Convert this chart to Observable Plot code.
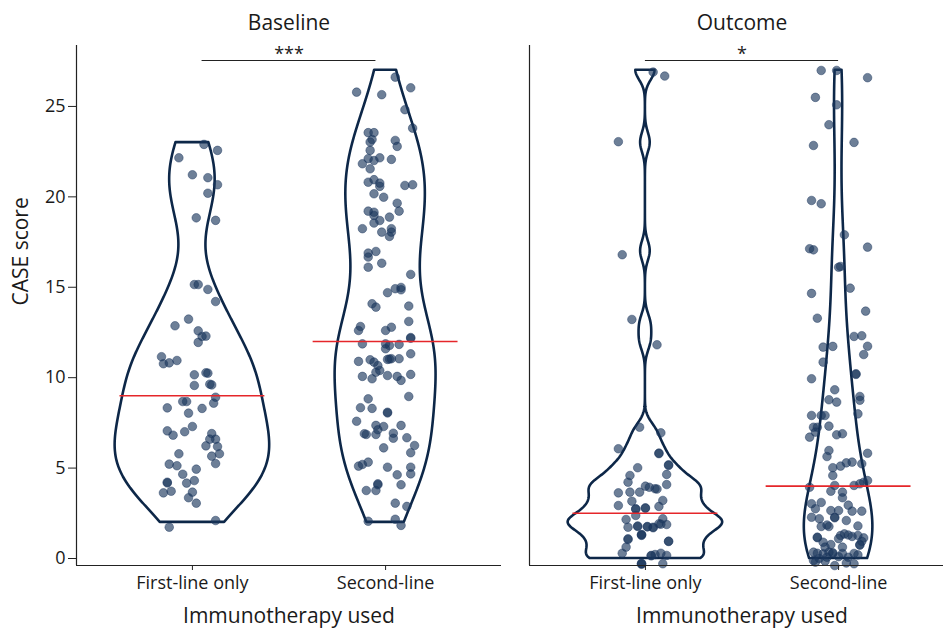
<!DOCTYPE html>
<html><head><meta charset="utf-8">
<script src="https://cdn.jsdelivr.net/npm/d3@7"></script>
<script src="https://cdn.jsdelivr.net/npm/@observablehq/plot@0.6"></script>
<style>
body{margin:0;background:#fff;}
#wrap{width:943px;height:632px;overflow:hidden;display:flex;background:#fff;}
#wrap svg{flex:none;}
</style></head><body><div id="wrap"></div>
<script>
const groups = ["First-line only", "Second-line"];
const panels = ["Baseline", "Outcome"];
const yTicks = [0, 5, 10, 15, 20, 25];
const baselineMedians = [9, 12];
const outcomeMedians = [2.5, 4];
const significance = ["***", "*"];
const bracketFrom = [1.05, 1.0];
const bracketTo = [1.95, 2.0];
const bracketLevel = 27.54;
// kernel bandwidth adjustment per violin (baseline first, baseline second, outcome first, outcome second)
const bandwidthAdjust = [1, 1, 0.58, 1];

// jittered points (score + vertical jitter), horizontal jitter in category units
const baseFirstY = [22.9,22.57,22.16,21.22,21.06,20.67,20.2,18.84,18.7,15.15,15.15,14.88,14.21,13.24,12.87,12.59,12.30,12.28,11.95,11.16,10.77,10.82,10.95,10.16,10.27,10.25,9.57,9.64,9.60,8.92,8.59,8.68,8.68,8.33,8.04,8.30,7.06,6.82,7.01,7.30,6.91,6.60,6.60,6.23,6.19,5.79,5.66,5.25,5.79,5.22,5.13,4.94,4.66,4.22,4.18,4.17,4.31,3.63,3.72,3.67,3.36,3.06,2.10,1.73];
const baseFirstJitter = [0.06,0.13,-0.07,0.00,0.08,0.13,0.08,0.02,0.12,0.01,0.03,0.08,0.12,-0.02,-0.09,0.03,0.07,0.05,0.03,-0.16,-0.15,-0.12,-0.08,0.01,0.07,0.08,0.01,0.09,0.10,0.12,0.11,-0.05,-0.03,-0.13,-0.02,0.05,-0.13,-0.10,-0.04,0.00,0.10,0.12,0.09,0.07,0.13,0.14,0.10,0.12,-0.07,-0.12,-0.08,0.02,-0.05,-0.13,-0.13,-0.03,0.01,-0.15,-0.11,0.00,-0.02,0.02,0.12,-0.12];

const baseSecondY = [26.62,26.03,25.79,25.65,24.82,23.80,23.55,23.55,23.17,23.03,
23.12,22.79,22.57,22.11,22.01,22.16,21.83,21.55,22.07,20.81,
20.95,20.76,20.58,20.63,20.67,20.17,19.98,19.65,19.21,19.21,
19.15,18.97,18.69,18.55,18.88,18.24,18.05,18.24,18.05,17.81,
16.89,16.98,16.67,16.33,16.11,15.71,14.70,14.92,14.86,14.99,
14.09,13.90,13.96,13.11,12.83,12.61,12.61,12.79,12.18,12.22,
11.87,11.87,11.78,11.84,11.60,11.32,10.90,10.99,10.86,10.67,
11.01,11.03,11.05,11.05,10.07,9.94,10.30,10.40,10.12,10.07,
9.85,10.18,8.96,8.83,8.34,8.30,8.09,8.05,7.59,7.36,
7.30,7.36,6.90,6.86,6.86,7.12,6.93,6.65,6.68,6.25,
6.12,5.85,5.11,5.20,5.33,5.05,5.05,4.63,4.68,4.13,
4.08,4.08,3.76,3.76,3.06,2.88,2.06,2.17,1.83];
const baseSecondJitter = [0.05,0.13,-0.15,-0.02,0.10,0.14,-0.09,-0.06,-0.07,-0.08,
0.05,0.06,-0.08,-0.09,-0.06,-0.03,-0.12,-0.08,0.03,-0.09,
-0.06,-0.03,-0.03,0.10,0.14,-0.06,-0.01,0.06,0.07,-0.09,
-0.06,-0.06,-0.03,-0.06,0.02,-0.12,-0.02,0.03,0.03,0.02,
-0.09,-0.05,-0.09,-0.02,-0.09,0.13,0.01,0.05,0.08,0.08,
-0.07,-0.05,0.12,0.12,-0.13,-0.14,0.00,0.03,0.13,0.13,
-0.12,0.00,0.02,0.07,0.00,0.13,-0.14,-0.08,-0.06,-0.04,
0.01,0.02,0.03,0.07,-0.12,-0.07,-0.05,-0.03,0.01,0.06,
0.08,0.13,0.12,-0.09,-0.13,-0.07,0.01,0.01,-0.15,-0.05,
-0.01,0.08,-0.11,-0.10,-0.05,-0.04,0.04,0.04,0.11,0.15,
-0.01,0.13,-0.14,-0.12,-0.09,0.01,0.13,0.06,0.13,-0.04,
-0.04,0.08,-0.10,-0.05,0.05,0.11,-0.09,0.05,0.08];

const outFirstY = [26.9,26.68,23.05,16.8,13.22,11.82,7.26,6.95,6.07,5.83,
5.80,5.18,5.02,4.59,4.65,4.22,4.09,3.63,3.67,3.67,
4.00,3.94,3.86,3.84,3.21,3.17,2.93,2.75,2.78,2.88,
2.38,2.16,1.73,1.77,1.77,1.73,1.92,2.20,1.88,1.31,
1.28,0.94,1.09,0.63,0.29,0.17,0.22,0.29,0.17,-0.29,
-0.29,-0.32,1.70,1.80,1.90,1.75,1.33,0.96,1.05,
0.15,5.15,-0.27,2.80,2.73];
const outFirstJitter = [0.04,0.10,-0.14,-0.12,-0.07,0.06,-0.03,0.08,-0.14,0.07,
0.07,0.12,-0.04,-0.08,0.11,-0.09,0.11,-0.14,-0.08,-0.03,
0.00,0.02,0.05,0.06,0.09,-0.07,-0.14,-0.05,0.00,0.07,
-0.05,-0.10,-0.09,-0.04,0.01,0.04,0.07,0.09,0.11,-0.02,
-0.02,0.12,-0.09,-0.10,-0.12,0.03,0.05,0.08,0.11,0.09,
-0.02,-0.02,0.04,-0.04,0.08,0.01,-0.02,0.12,-0.09,
0.03,0.12,-0.02,0.00,-0.05];

const outSecondY = [26.99,26.99,26.59,25.5,25.09,23.99,22.84,23.01,19.8,19.62,
17.9,17.13,17.07,17.22,16.11,16.15,14.95,14.66,13.68,13.29,
12.28,12.32,11.69,11.73,11.74,11.28,10.86,9.94,10.22,10.18,
9.33,8.78,8.65,8.96,8.75,8.0,7.91,7.91,7.91,7.26,
7.26,7.32,6.99,6.71,6.84,6.90,5.97,5.64,5.82,5.29,
5.33,5.11,5.02,5.24,4.59,3.94,4.04,4.04,4.13,4.22,
4.31,3.72,3.67,3.36,3.03,2.75,2.65,2.65,2.62,2.62,
2.28,2.20,2.28,2.25,1.77,1.77,1.27,1.36,1.22,1.27,
1.14,1.18,1.15,0.77,0.63,0.77,0.74,0.63,0.35,0.29,
0.26,0.35,0.28,0.28,0.28,-0.11,0.0,0.07,-0.39,0.07,
-0.29,-0.2,-0.15,0.1,-0.25,0.2,0.32,1.3,0.9,1.1,
0.95,1.85,2.1,1.8,2.95,3.1];
const outSecondJitter = [-0.09,-0.01,0.15,-0.12,-0.01,-0.05,-0.13,0.08,-0.14,-0.09,
0.03,-0.15,-0.13,0.15,0.00,0.01,0.06,-0.14,0.14,-0.11,
0.08,0.12,-0.08,-0.03,0.15,0.13,-0.08,-0.14,0.09,0.09,
-0.02,-0.05,-0.01,0.11,0.11,0.10,-0.14,-0.09,-0.07,-0.13,
-0.11,-0.05,-0.12,-0.15,-0.01,0.02,-0.05,-0.06,0.15,0.04,
0.07,0.01,-0.03,0.12,-0.03,-0.15,-0.02,0.08,0.11,0.13,
0.15,-0.04,0.02,0.02,-0.14,-0.12,-0.04,0.00,0.07,0.12,
-0.14,-0.10,-0.02,-0.02,-0.09,-0.05,0.01,0.03,0.07,0.10,
0.13,-0.11,-0.11,-0.04,-0.07,0.11,0.11,0.02,-0.13,-0.11,
-0.08,-0.05,-0.03,0.02,0.08,-0.13,-0.10,-0.06,-0.02,0.05,
0.08,-0.12,-0.07,0.00,0.04,0.10,-0.03,0.05,-0.08,0.00,
0.12,-0.06,0.04,0.10,0.05,-0.09];

// ---------- helpers ----------
function q7(s, p) { const h = (s.length - 1) * p, lo = Math.floor(h); const hi = Math.min(lo + 1, s.length - 1); return s[lo] + (h - lo) * (s[hi] - s[lo]); }
function bwNrd0(x) {
  const s = [...x].sort((a, b) => a - b);
  const sd = d3.deviation(x), iqr = q7(s, 0.75) - q7(s, 0.25);
  let lo = Math.min(sd, iqr / 1.34);
  if (!(lo > 0)) lo = sd || 1;
  return 0.9 * lo * Math.pow(x.length, -0.2);
}
function kde(x, adjust) {
  const bw = bwNrd0(x) * adjust, [mn, mx] = d3.extent(x), n = 512, out = [];
  for (let i = 0; i < n; i++) {
    const y = mn + (mx - mn) * i / (n - 1);
    let s = 0;
    for (const v of x) { const z = (y - v) / bw; s += Math.exp(-0.5 * z * z); }
    out.push({y, d: s / (x.length * bw * Math.sqrt(2 * Math.PI))});
  }
  return out;
}

const yDomain = [-0.387, 28.37];
const FONT = "'Open Sans', 'DejaVu Sans', sans-serif";
const NAVY = "#0d2748";

function panel(opts) {
  const {title, series, medians, sig, bFrom, bTo, adjust, left, width, marginLeft, marginRight} = opts;
  const dens = series.map((s, gi) => kde(s.y.map(v => Math.round(v)), adjust[gi]));
  const maxD = d3.max(dens.flat(), d => d.d);
  const halfW = 0.4;
  const violin = dens.flatMap((ds, gi) => ds.map(d => ({g: gi, y: d.y,
    x1: gi + 1 - halfW * d.d / maxD, x2: gi + 1 + halfW * d.d / maxD})));
  const pts = series.flatMap((s, gi) => s.y.map((v, k) => ({x: gi + 1 + s.j[k], y: v})));
  const med = medians.map((m, gi) => ({m, g: gi + 1}));
  return Plot.plot({
    width, height: 632, marginTop: 45, marginBottom: 67, marginLeft, marginRight,
    style: {fontFamily: FONT, fontSize: "18px", color: "#1a1a1a", background: "white", overflow: "visible"},
    x: {domain: [0.4, 2.6], axis: null},
    y: {domain: yDomain, axis: null},
    marks: [
      Plot.areaX(violin, {y: "y", x1: "x1", x2: "x2", z: "g", fill: "none", stroke: NAVY, strokeWidth: 2.6, curve: "linear"}),
      Plot.dot(pts, {x: "x", y: "y", r: 4.3, fill: "#1b365d", fillOpacity: 0.64, stroke: "#1b365d", strokeOpacity: 0.45, strokeWidth: 1}),
      Plot.ruleY(med, {y: "m", x1: d => d.g - 0.375, x2: d => d.g + 0.375, stroke: "#e5262a", strokeWidth: 1.6}),
      Plot.ruleY([{y: bracketLevel, a: bFrom, b: bTo}], {y: "y", x1: "a", x2: "b", stroke: "#222", strokeWidth: 1.2}),
      Plot.text([{y: bracketLevel, t: sig, x: (bFrom + bTo) / 2}], {x: "x", y: "y", text: "t", lineAnchor: "bottom", dy: -1, fontSize: 18, fill: "#222"}),
      Plot.ruleX([0.4], {stroke: "#222", strokeWidth: 1.2}),
      Plot.ruleY([yDomain[0]], {stroke: "#222", strokeWidth: 1.2}),
      Plot.axisX({ticks: [1, 2], tickFormat: i => groups[i - 1], tickSize: 5, tickPadding: 6, fontSize: 18, label: null, stroke: "#222"}),
      left ? Plot.axisY({ticks: yTicks, tickSize: 8, tickPadding: 3, fontSize: 18, label: null, stroke: "#222"}) : null,
      Plot.text([title], {frameAnchor: "top", lineAnchor: "middle", dy: -22, fontSize: 21, fill: "#1a1a1a"}),
      Plot.text(["Immunotherapy used"], {frameAnchor: "bottom", lineAnchor: "middle", dy: 51, fontSize: 21, fill: "#1a1a1a"}),
      left ? Plot.text(["CASE score"], {frameAnchor: "left", lineAnchor: "middle", dx: -55, rotate: -90, fontSize: 21, fill: "#1a1a1a"}) : null
    ]
  });
}

const wrap = document.getElementById("wrap");
wrap.append(panel({
  title: panels[0], medians: baselineMedians, sig: significance[0], bFrom: bracketFrom[0], bTo: bracketTo[0],
  adjust: bandwidthAdjust.slice(0, 2),
  series: [{y: baseFirstY, j: baseFirstJitter}, {y: baseSecondY, j: baseSecondJitter}],
  left: true, width: 510, marginLeft: 76, marginRight: 9
}));
wrap.append(panel({
  title: panels[1], medians: outcomeMedians, sig: significance[1], bFrom: bracketFrom[1], bTo: bracketTo[1],
  adjust: bandwidthAdjust.slice(2, 4),
  series: [{y: outFirstY, j: outFirstJitter}, {y: outSecondY, j: outSecondJitter}],
  left: false, width: 444, marginLeft: 19, marginRight: 0
}));
</script></body></html>
